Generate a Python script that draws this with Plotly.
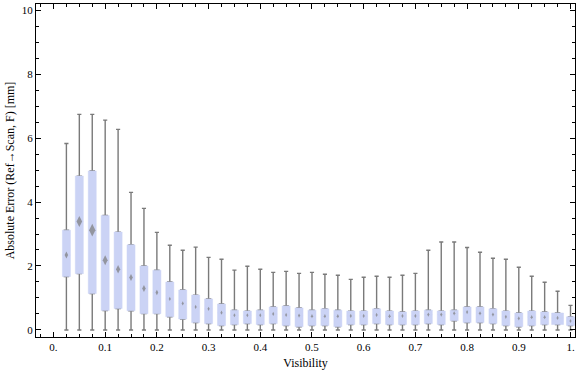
import plotly.graph_objects as go

# Data (Visibility bins vs. absolute error [mm])
visibility = [round(0.025 * k, 3) for k in range(1, 41)]
whisker_low = [0.0] * 40
q1 = [1.67, 1.76, 1.14, 0.61, 0.67, 0.60, 0.51, 0.51, 0.41, 0.34,
      0.23, 0.20, 0.14, 0.17, 0.20, 0.17, 0.20, 0.14, 0.10, 0.14,
      0.14, 0.10, 0.17, 0.17, 0.20, 0.17, 0.17, 0.17, 0.20, 0.17,
      0.29, 0.23, 0.23, 0.20, 0.14, 0.10, 0.14, 0.17, 0.17, 0.14]
median = [2.34, 3.39, 3.12, 2.18, 1.90, 1.64, 1.30, 1.17, 0.97, 0.83,
          0.72, 0.66, 0.54, 0.46, 0.46, 0.46, 0.50, 0.47, 0.45, 0.43,
          0.43, 0.43, 0.44, 0.44, 0.47, 0.43, 0.44, 0.44, 0.48, 0.48,
          0.52, 0.56, 0.52, 0.48, 0.41, 0.36, 0.40, 0.40, 0.375, 0.28]
q3 = [3.12, 4.81, 4.97, 3.58, 3.06, 2.66, 2.00, 1.87, 1.50, 1.25,
      1.09, 0.97, 0.81, 0.62, 0.59, 0.62, 0.72, 0.75, 0.69, 0.62,
      0.66, 0.62, 0.59, 0.59, 0.66, 0.59, 0.56, 0.59, 0.62, 0.59,
      0.62, 0.72, 0.72, 0.66, 0.59, 0.53, 0.59, 0.56, 0.53, 0.41]
whisker_high = [5.83, 6.74, 6.74, 6.56, 6.27, 4.30, 3.80, 3.05, 2.65, 2.49,
                2.59, 2.27, 2.21, 1.87, 1.99, 1.90, 1.80, 1.83, 1.77, 1.80,
                1.74, 1.71, 1.58, 1.65, 1.68, 1.65, 1.71, 1.77, 2.49, 2.75,
                2.75, 2.58, 2.43, 2.24, 2.21, 1.96, 1.68, 1.49, 1.21, 0.77]

x_tickvals = [0.0, 0.1, 0.2, 0.3, 0.4, 0.5, 0.6, 0.7, 0.8, 0.9, 1.0]
x_ticktext = ["0.", "0.1", "0.2", "0.3", "0.4", "0.5", "0.6", "0.7", "0.8", "0.9", "1."]
y_tickvals = [0, 2, 4, 6, 8, 10]

# Styles (not data)
box_fill = "#cbd3f5"
gray = "#7a7a7a"
box_widths = [0.0155] * 38 + [0.023, 0.0155]
marker_sizes = [5, 8, 9, 7, 6, 5, 5, 4] + [3] * 32

fig = go.Figure()

# Whiskers (gray) - narrow hidden box with whiskers and caps
fig.add_trace(go.Box(
    x=visibility, q1=q1, median=median, q3=q3,
    lowerfence=whisker_low, upperfence=whisker_high,
    width=0.008, whiskerwidth=1.0,
    fillcolor=gray, line=dict(color=gray, width=1.4),
    boxpoints=False, hoverinfo="skip", showlegend=False,
))

# Boxes (light blue) drawn on top, each with its own width
for i in range(len(visibility)):
    fig.add_trace(go.Box(
        x=[visibility[i]], q1=[q1[i]], median=[median[i]], q3=[q3[i]],
        lowerfence=[q1[i]], upperfence=[q3[i]],
        width=box_widths[i], whiskerwidth=0,
        fillcolor=box_fill, line=dict(color=box_fill, width=0.5),
        boxpoints=False, hoverinfo="skip", showlegend=False,
    ))

# Median markers
fig.add_trace(go.Scatter(
    x=visibility, y=median, mode="markers",
    marker=dict(symbol="diamond-tall", size=marker_sizes, color=gray, line=dict(width=0)),
    hoverinfo="skip", showlegend=False,
))

font_family = "Liberation Serif, Times New Roman, serif"
fig.update_layout(
    width=576, height=377,
    margin=dict(l=36, r=1, t=4, b=40, autoexpand=False),
    paper_bgcolor="white", plot_bgcolor="white",
    boxmode="overlay",
    font=dict(family=font_family, size=11, color="black"),
    xaxis=dict(
        range=[-0.0338, 1.0087], automargin=False,
        tickvals=x_tickvals, ticktext=x_ticktext,
        ticks="inside", ticklen=5, tickwidth=1, tickcolor="black",
        minor=dict(dtick=0.025, tick0=0, ticks="inside", ticklen=3, tickwidth=1, tickcolor="black"),
        showline=True, linecolor="black", linewidth=1, mirror="ticks",
        showgrid=False, zeroline=False,
        title=dict(text="Visibility", font=dict(size=12), standoff=6),
        tickfont=dict(size=11),
    ),
    yaxis=dict(
        range=[-0.22, 10.19], automargin=False,
        tickvals=y_tickvals,
        ticks="inside", ticklen=5, tickwidth=1, tickcolor="black",
        minor=dict(dtick=0.5, tick0=0, ticks="inside", ticklen=3, tickwidth=1, tickcolor="black"),
        showline=True, linecolor="black", linewidth=1, mirror="ticks",
        showgrid=False, zeroline=False,
        title=dict(text="Absolute Error (Ref\u2192Scan, F) [mm]", font=dict(size=12), standoff=4),
        tickfont=dict(size=11),
    ),
)

fig.write_html(
    "out.html",
    config={"displayModeBar": False},
    post_script="document.body.style.margin='0';document.body.style.overflow='hidden';",
)
